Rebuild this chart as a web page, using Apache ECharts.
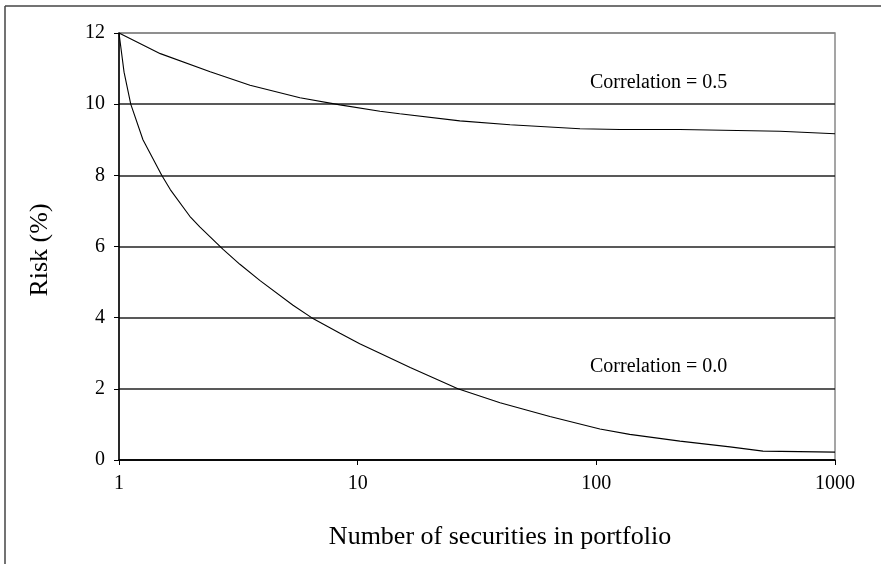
<!DOCTYPE html>
<html>
<head>
<meta charset="utf-8">
<script src="https://cdn.jsdelivr.net/npm/echarts@6/dist/echarts.min.js"></script>
<style>html,body{margin:0;padding:0;background:#fff;}#c{width:881px;height:564px;}</style>
</head>
<body>
<div id="c"></div>
<script>
// Number of securities (x) and risk % (y)
const corr05N = [1, 1.49, 2.41, 3.54, 5.73, 8.43, 12.4, 15, 26.8, 43.5, 85.4, 125.6, 224, 588, 1000];
const corr05Risk = [12, 11.42, 10.91, 10.53, 10.18, 9.98, 9.80, 9.73, 9.53, 9.42, 9.31, 9.29, 9.29, 9.24, 9.17];
const corr00N = [1, 1.05, 1.12, 1.26, 1.51, 1.64, 1.98, 2.18, 2.73, 3.21, 3.9, 5.36, 6.41, 8.43, 10.2, 12.4, 16.6, 26.3, 39.5, 63.9, 103.5, 138, 224, 363, 499, 1000];
const corr00Risk = [12, 10.9, 10.0, 9.0, 8.0, 7.6, 6.85, 6.55, 5.92, 5.5, 5.04, 4.35, 4.0, 3.56, 3.27, 3.0, 2.6, 2.0, 1.61, 1.22, 0.87, 0.72, 0.53, 0.37, 0.25, 0.22];
const seriesNames = ['Correlation = 0.5', 'Correlation = 0.0'];
const xTitle = 'Number of securities in portfolio';
const yTitle = 'Risk (%)';
const yTicks = [0, 2, 4, 6, 8, 10, 12];

const font = '"Liberation Serif", "Times New Roman", serif';
const zip = (a, b) => a.map((v, i) => [v, b[i]]);

const chart = echarts.init(document.getElementById('c'), null, {renderer: 'canvas'});
chart.setOption({
  backgroundColor: '#fff',
  animation: false,
  grid: {left: 119, right: 46, top: 33, bottom: 104, show: true, borderColor: '#888', borderWidth: 1.5, backgroundColor: 'transparent'},
  xAxis: {
    type: 'log', logBase: 10, min: 1, max: 1000,
    axisLine: {show: true, lineStyle: {color: '#000', width: 1.5}},
    axisTick: {show: true, length: 5, lineStyle: {color: '#000', width: 1}},
    minorTick: {show: false},
    splitLine: {show: false},
    axisLabel: {color: '#000', fontFamily: font, fontSize: 20, margin: 14, formatter: v => String(Math.round(v))}
  },
  yAxis: {
    type: 'value', min: yTicks[0], max: yTicks[yTicks.length - 1], interval: 2,
    axisLine: {show: true, lineStyle: {color: '#000', width: 1.5}},
    axisTick: {show: true, length: 5, lineStyle: {color: '#000', width: 1}},
    splitLine: {show: true, lineStyle: {color: ['#000', '#222', '#222', '#222', '#222', '#222', '#888'], width: 1.5}},
    axisLabel: {color: '#000', fontFamily: font, fontSize: 20, margin: 14}
  },
  series: [
    {name: seriesNames[0], type: 'line', data: zip(corr05N, corr05Risk), showSymbol: false, symbol: 'none',
     lineStyle: {color: '#000', width: 1.1}},
    {name: seriesNames[1], type: 'line', data: zip(corr00N, corr00Risk), showSymbol: false, symbol: 'none',
     lineStyle: {color: '#000', width: 1.1}}
  ],
  graphic: [
    {type: 'line', shape: {x1: 5, y1: 6, x2: 881, y2: 6}, style: {stroke: '#444', lineWidth: 1.5}},
    {type: 'line', shape: {x1: 5, y1: 6, x2: 5, y2: 564}, style: {stroke: '#444', lineWidth: 1.5}},
    {type: 'text', left: 590, top: 73, style: {text: seriesNames[0], font: '20px ' + font, fill: '#000'}},
    {type: 'text', left: 590, top: 357, style: {text: seriesNames[1], font: '20px ' + font, fill: '#000'}},
    {type: 'text', x: 500, y: 537, style: {text: xTitle, font: '26px ' + font, fill: '#000', align: 'center', verticalAlign: 'middle'}},
    {type: 'text', x: 40, y: 250, rotation: Math.PI / 2, style: {text: yTitle, font: '26px ' + font, fill: '#000', align: 'center', verticalAlign: 'middle'}}
  ]
});
</script>
</body>
</html>
